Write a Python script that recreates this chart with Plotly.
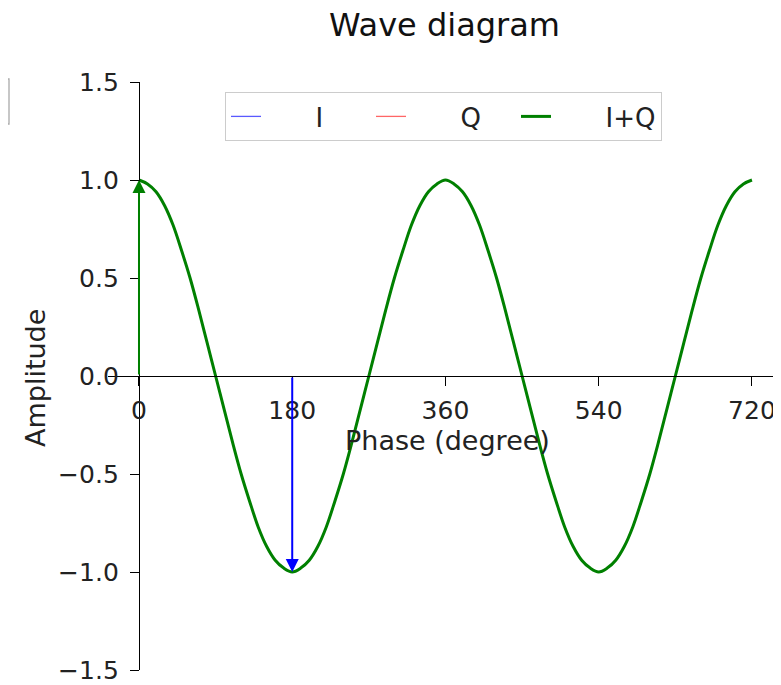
import plotly.graph_objects as go

phase = list(range(0, 721, 10))
iq_amp = [1.0, 0.98, 0.94, 0.87, 0.77, 0.64, 0.5, 0.34, 0.17, 0.0,
          -0.17, -0.34, -0.5, -0.64, -0.77, -0.87, -0.94, -0.98, -1.0,
          -0.98, -0.94, -0.87, -0.77, -0.64, -0.5, -0.34, -0.17, 0.0,
          0.17, 0.34, 0.5, 0.64, 0.77, 0.87, 0.94, 0.98, 1.0,
          0.98, 0.94, 0.87, 0.77, 0.64, 0.5, 0.34, 0.17, 0.0,
          -0.17, -0.34, -0.5, -0.64, -0.77, -0.87, -0.94, -0.98, -1.0,
          -0.98, -0.94, -0.87, -0.77, -0.64, -0.5, -0.34, -0.17, 0.0,
          0.17, 0.34, 0.5, 0.64, 0.77, 0.87, 0.94, 0.98, 1.0]

# Phasor arrows: (x position, tail y, head y)
arrow_x = [180, 0]
arrow_tail = [0.0, 0.0]
arrow_head = [-1.0, 1.0]
arrow_colors = ["#0000ff", "#008000"]

series_names = ["I", "Q", "I+Q"]
x_ticks = [0, 180, 360, 540, 720]
y_ticks = [-1.5, -1.0, -0.5, 0.0, 0.5, 1.0, 1.5]
y_tick_text = ["\u22121.5", "\u22121.0", "\u22120.5", "0.0", "0.5", "1.0", "1.5"]

x_range = [-36.4, 754.1]
y_range = [-1.5, 1.5]

FONT = "DejaVu Sans"
# the page body adds an 8px offset; margins compensate for it
OFF = 8
PL, PT, PW, PH = 108, 82, 673, 588   # plot area in screen pixels
PAD = "\u00a0" * 6                   # gap between legend line and label

fig = go.Figure()
fig.add_trace(go.Scatter(x=[None], y=[None], mode="lines", name=PAD + series_names[0],
                         line=dict(color="rgba(0,0,255,0.65)", width=1.3)))
fig.add_trace(go.Scatter(x=[None], y=[None], mode="lines", name=PAD + series_names[1],
                         line=dict(color="rgba(255,0,0,0.6)", width=1.3)))
fig.add_trace(go.Scatter(x=phase, y=iq_amp, mode="lines", name=PAD + series_names[2],
                         line=dict(color="#008000", width=3, shape="spline")))

for xa, yt, yh, c in zip(arrow_x, arrow_tail, arrow_head, arrow_colors):
    fig.add_annotation(x=xa, y=yh, ax=xa, ay=yt, xref="x", yref="y",
                       axref="x", ayref="y", showarrow=True, text="",
                       arrowhead=2, arrowsize=1.3, arrowwidth=2, arrowcolor=c)

yfrac = (0 - x_range[0]) / (x_range[1] - x_range[0])

fig.update_layout(
    width=781, height=685,
    margin=dict(l=PL - OFF, r=781 + OFF - PL - PW, t=PT - OFF, b=685 - (PT - OFF) - PH),
    plot_bgcolor="white", paper_bgcolor="white",
    font=dict(family=FONT, size=26, color="#222"),
    title=dict(text="Wave diagram", x=0.5, xref="paper", xanchor="center",
               y=1 - (25 - OFF) / 685, yref="container", yanchor="middle",
               font=dict(family=FONT, size=32, color="#111")),
    xaxis=dict(range=x_range, tickvals=x_ticks, ticks="outside", ticklen=9,
               tickwidth=1.3, tickcolor="black", showline=True, linecolor="black",
               linewidth=1.3, showgrid=False, zeroline=False, anchor="free",
               position=0.5, ticklabelstandoff=3,
               tickfont=dict(family=FONT, size=25, color="#222")),
    yaxis=dict(range=y_range, tickvals=y_ticks, ticktext=y_tick_text, ticks="outside",
               ticklen=9, tickwidth=1.3, tickcolor="black", showline=True,
               linecolor="black", linewidth=1.3, showgrid=False, zeroline=False,
               anchor="free", position=yfrac, ticklabelstandoff=6,
               tickfont=dict(family=FONT, size=25, color="#222")),
    legend=dict(orientation="h", x=(225 - PL) / PW, y=1 - (92 - PT) / PH,
                xanchor="left", yanchor="top", bgcolor="white",
                bordercolor="#cccccc", borderwidth=1, entrywidth=100,
                font=dict(family=FONT, size=26, color="#222")),
    showlegend=True,
)

fig.add_annotation(text="Phase (degree)", xref="paper", yref="paper",
                   x=(447 - PL) / PW, y=1 - (440 - PT) / PH, showarrow=False,
                   xanchor="center", yanchor="middle",
                   font=dict(family=FONT, size=27, color="#222"))
fig.add_annotation(text="Amplitude", xref="paper", yref="paper",
                   x=(35 - PL) / PW, y=1 - (378 - PT) / PH, showarrow=False,
                   textangle=-90, xanchor="center", yanchor="middle",
                   font=dict(family=FONT, size=27, color="#222"))

fig.add_shape(type="rect", xref="paper", yref="paper",
              x0=(-10 - PL) / PW, x1=(9 - PL) / PW,
              y0=1 - (124 - PT) / PH, y1=1 - (79 - PT) / PH,
              line=dict(color="#aaaaaa", width=1.3), fillcolor="white")

fig.write_html("out.html")
